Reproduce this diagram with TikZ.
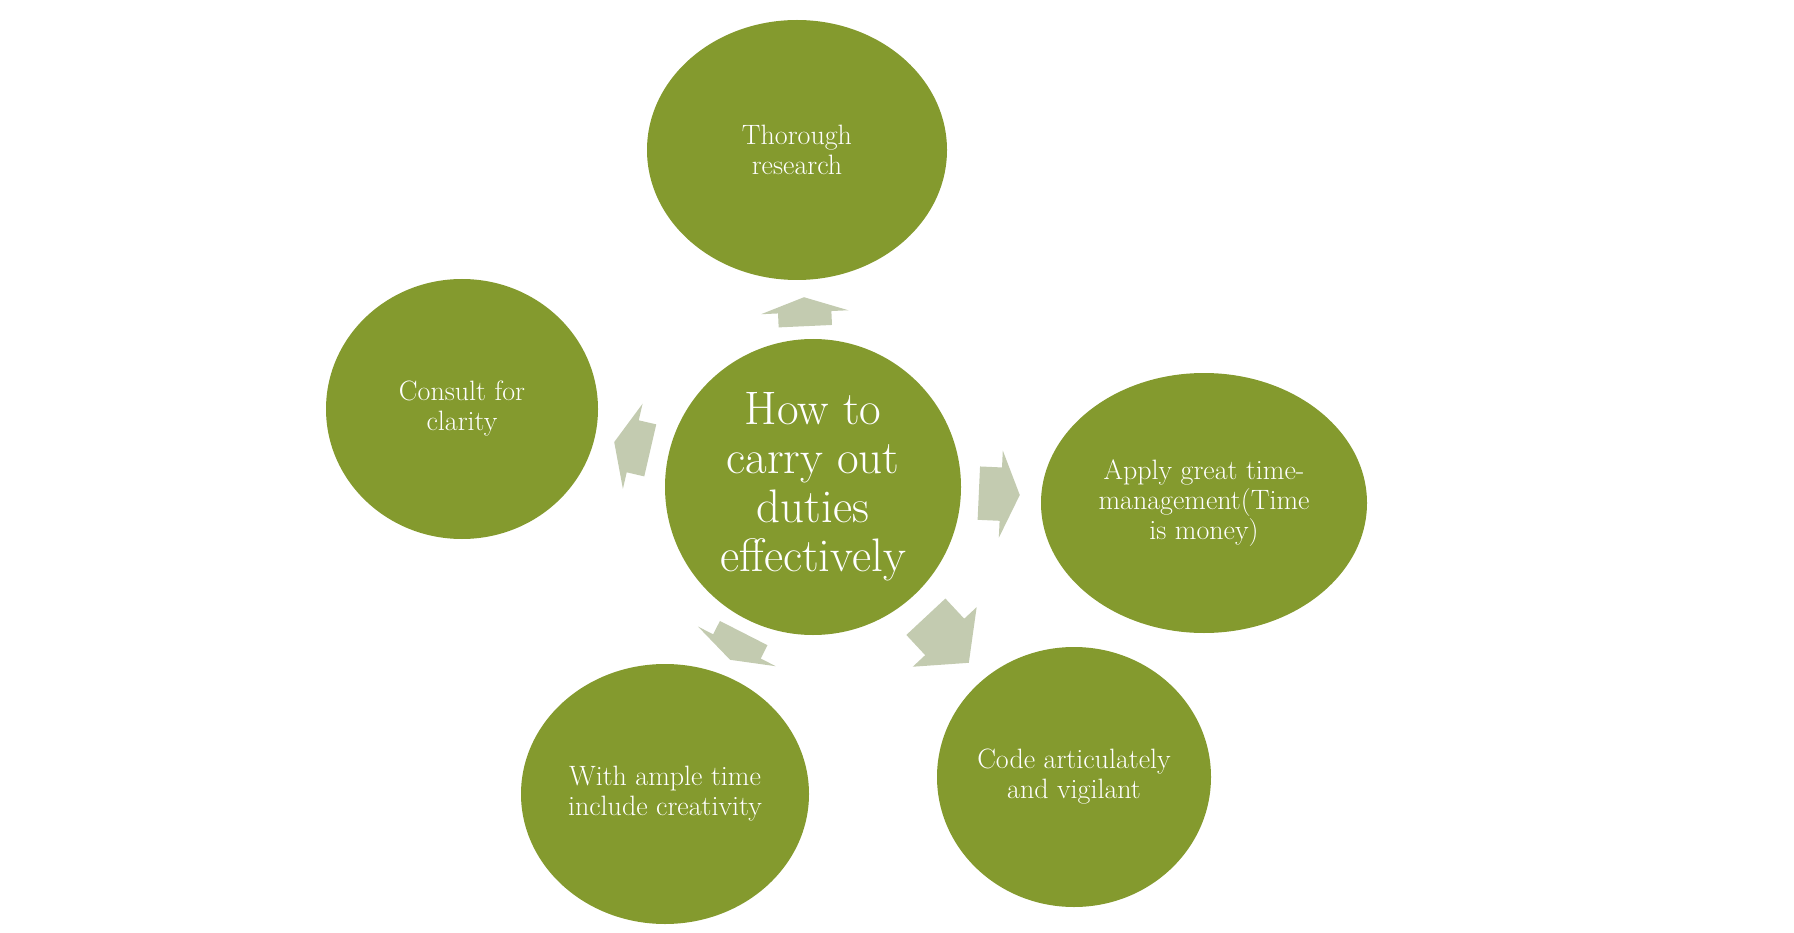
\documentclass[tikz,border=0pt]{standalone}
\usepackage{fontspec}
\usepackage{tikz}
\usetikzlibrary{shapes.geometric,shapes.arrows}
\definecolor{leafgreen}{HTML}{849A2E}
\definecolor{sage}{HTML}{C3CBB0}

\begin{document}
\begin{tikzpicture}[x=1pt,y=-1pt]
	  \tikzstyle{idea}=[ellipse,fill=leafgreen,text=white,inner sep=0pt,align=center,
				  minimum height=260pt,font=\fontsize{28}{30}\selectfont]
	  \tikzstyle{hub}=[circle,fill=leafgreen,text=white,inner sep=0pt,align=center,
				  minimum size=296pt,font=\fontsize{47}{49}\selectfont]
	  \tikzstyle{pointer}=[single arrow,fill=sage,inner xsep=0pt,inner ysep=26.5pt,
				  single arrow head extend=17pt,minimum width=0pt,anchor=tip]

	\useasboundingbox (0,0) rectangle (1794,933);

	\node (center_hub)[hub] at (813,487) {How to\\carry out\\duties\\effectively};
	\node (top_research)[idea,minimum width=300pt] at (797,150) {Thorough\\research};
	\node (left_consult)[idea,minimum width=272pt] at (462,409) {Consult for\\clarity};
	\node (right_time)[idea,minimum width=326pt] at (1204,503) {Apply great time-\\management(Time\\is money)};
	\node (bottom_right_code)[idea,minimum width=274pt] at (1074,777) {Code articulately\\and vigilant};
	\node (bottom_left_ample)[idea,minimum width=288pt] at (665,794) {With ample time\\include creativity};

	\node (arrow_top)[pointer,minimum height=29pt,single arrow tip angle=142,rotate=92.6] at (804,297) {};
	\node (arrow_left)[pointer,minimum height=37pt,single arrow tip angle=133,rotate=167] at (614,442) {};
	\node (arrow_right)[pointer,minimum height=41pt,single arrow tip angle=133,rotate=-2.6] at (1020,495) {};
	\node (arrow_bottom_right)[pointer,minimum height=63pt,single arrow tip angle=102,rotate=-47] at (969,663) {};
	\node (arrow_bottom_left)[pointer,minimum height=30pt,single arrow tip angle=142,rotate=243] at (730,660) {};

\end{tikzpicture}
\end{document}
